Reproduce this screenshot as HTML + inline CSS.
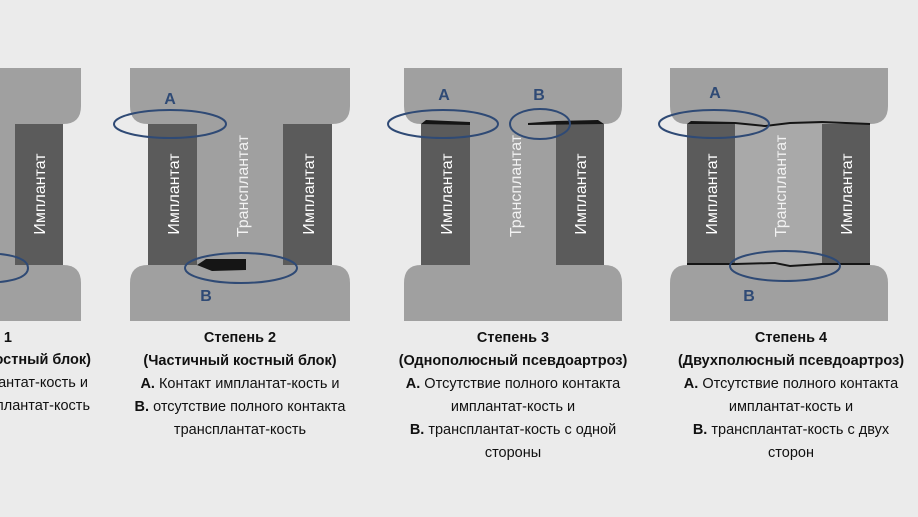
<!DOCTYPE html>
<html><head><meta charset="utf-8"><style>
html,body{margin:0;padding:0;background:#ebebeb;width:918px;height:517px;overflow:hidden;position:relative;font-family:"Liberation Sans",sans-serif;}
.t{position:absolute;font-size:14.5px;color:#111;white-space:nowrap;line-height:23px;}
.c{transform:translateX(-50%);text-align:center;}
b{font-weight:bold}
</style></head><body>
<svg width="918" height="517" style="position:absolute;left:0;top:0" font-family="Liberation Sans, sans-serif">
<!-- panel 1 -->
<rect x="0" y="100" width="63" height="190" fill="#a0a0a0"/>
<path d="M0 68 H81 V106 Q81 124 63 124 H0 Z" fill="#a0a0a0"/>
<path d="M0 321 H81 V283 Q81 265 63 265 H0 Z" fill="#a0a0a0"/>
<rect x="15" y="124" width="48" height="141" fill="#5b5b5b"/>
<text transform="translate(45,194) rotate(-90)" text-anchor="middle" fill="#fff" font-size="16">Имплантат</text>
<path d="M0 254 Q28 257 28 268 Q28 279 0 282" fill="none" stroke="#2f4a75" stroke-width="2"/>
<g font-size="14.5" fill="#111" text-anchor="end">
<text x="12" y="342" font-weight="bold">Степень 1</text>
<text x="91" y="364" font-weight="bold">(Полный костный блок)</text>
<text x="88" y="387">имплантат-кость и</text>
<text x="90" y="410">трансплантат-кость</text>
</g>

<!-- panel 2 -->
<rect x="148" y="100" width="184" height="190" fill="#a0a0a0"/>
<path d="M130 68 H350 V106 Q350 124 332 124 H148 Q130 124 130 106 Z" fill="#a0a0a0"/>
<path d="M130 321 H350 V283 Q350 265 332 265 H148 Q130 265 130 283 Z" fill="#a0a0a0"/>
<rect x="148" y="124" width="49" height="141" fill="#5b5b5b"/>
<rect x="283" y="124" width="49" height="141" fill="#5b5b5b"/>
<path d="M197 265 L206 259 L246 259 L246 270 L212 271 Z" fill="#151515"/>
<text transform="translate(179,194) rotate(-90)" text-anchor="middle" fill="#fff" font-size="16">Имплантат</text>
<text transform="translate(314,194) rotate(-90)" text-anchor="middle" fill="#fff" font-size="16">Имплантат</text>
<text transform="translate(248,186) rotate(-90)" text-anchor="middle" fill="#f2f2f2" font-size="16">Трансплантат</text>
<ellipse cx="170" cy="124" rx="56" ry="14" fill="none" stroke="#2f4a75" stroke-width="2"/>
<ellipse cx="241" cy="268" rx="56" ry="15" fill="none" stroke="#2f4a75" stroke-width="2"/>
<text x="170" y="104" text-anchor="middle" fill="#2f4a75" font-size="16" font-weight="bold">A</text>
<text x="206" y="301" text-anchor="middle" fill="#2f4a75" font-size="16" font-weight="bold">B</text>

<!-- panel 3 -->
<rect x="421" y="100" width="183" height="190" fill="#a0a0a0"/>
<path d="M404 68 H622 V106 Q622 124 604 124 H421 Q404 124 404 106 Z" fill="#a0a0a0"/>
<path d="M404 321 H622 V283 Q622 265 604 265 H421 Q404 265 404 283 Z" fill="#a0a0a0"/>
<rect x="421" y="124" width="49" height="141" fill="#5b5b5b"/>
<rect x="556" y="124" width="48" height="141" fill="#5b5b5b"/>
<path d="M421 124 L426 120 L470 122 L470 125 Z" fill="#151515"/>
<path d="M528 125 L528 123 L556 121 L598 120 L604 124 Z" fill="#151515"/>
<text transform="translate(452,194) rotate(-90)" text-anchor="middle" fill="#fff" font-size="16">Имплантат</text>
<text transform="translate(586,194) rotate(-90)" text-anchor="middle" fill="#fff" font-size="16">Имплантат</text>
<text transform="translate(521,186) rotate(-90)" text-anchor="middle" fill="#f2f2f2" font-size="16">Трансплантат</text>
<ellipse cx="443" cy="124" rx="55" ry="14" fill="none" stroke="#2f4a75" stroke-width="2"/>
<ellipse cx="540" cy="124" rx="30" ry="15" fill="none" stroke="#2f4a75" stroke-width="2"/>
<text x="444" y="100" text-anchor="middle" fill="#2f4a75" font-size="16" font-weight="bold">A</text>
<text x="539" y="100" text-anchor="middle" fill="#2f4a75" font-size="16" font-weight="bold">B</text>

<!-- panel 4 -->
<rect x="687" y="100" width="183" height="190" fill="#a9a9a9"/>
<path d="M670 68 H888 V106 Q888 124 870 124 H687 Q670 124 670 106 Z" fill="#a0a0a0"/>
<path d="M670 321 H888 V283 Q888 265 870 265 H687 Q670 265 670 283 Z" fill="#a0a0a0"/>
<rect x="687" y="124" width="48" height="141" fill="#5b5b5b"/>
<rect x="822" y="124" width="48" height="141" fill="#5b5b5b"/>
<path d="M687 124 L691 121 L735 122 L765 125 L790 122 L822 121 L870 123 L870 125 L822 123 L790 124 L765 127 L735 124 Z" fill="#151515"/>
<path d="M687 265 L687 263 L735 263 L775 262 L790 265 L822 263 L870 263 L870 265 L822 265 L790 267 L775 264 L735 265 Z" fill="#151515"/>
<text transform="translate(717,194) rotate(-90)" text-anchor="middle" fill="#fff" font-size="16">Имплантат</text>
<text transform="translate(852,194) rotate(-90)" text-anchor="middle" fill="#fff" font-size="16">Имплантат</text>
<text transform="translate(786,186) rotate(-90)" text-anchor="middle" fill="#f2f2f2" font-size="16">Трансплантат</text>
<ellipse cx="714" cy="124" rx="55" ry="14" fill="none" stroke="#2f4a75" stroke-width="2"/>
<ellipse cx="785" cy="266" rx="55" ry="15" fill="none" stroke="#2f4a75" stroke-width="2"/>
<text x="715" y="98" text-anchor="middle" fill="#2f4a75" font-size="16" font-weight="bold">A</text>
<text x="749" y="301" text-anchor="middle" fill="#2f4a75" font-size="16" font-weight="bold">B</text>
</svg>

<div class="t c" style="left:240px;top:327px"><b>Степень 2</b><br><b>(Частичный костный блок)</b><br><b>A.</b> Контакт имплантат-кость и<br><b>B.</b> отсутствие полного контакта<br>трансплантат-кость</div>
<div class="t c" style="left:513px;top:327px"><b>Степень 3</b><br><b>(Однополюсный псевдоартроз)</b><br><b>A.</b> Отсутствие полного контакта<br>имплантат-кость и<br><b>B.</b> трансплантат-кость с одной<br>стороны</div>
<div class="t c" style="left:791px;top:327px"><b>Степень 4</b><br><b>(Двухполюсный псевдоартроз)</b><br><b>A.</b> Отсутствие полного контакта<br>имплантат-кость и<br><b>B.</b> трансплантат-кость с двух<br>сторон</div>
</body></html>
